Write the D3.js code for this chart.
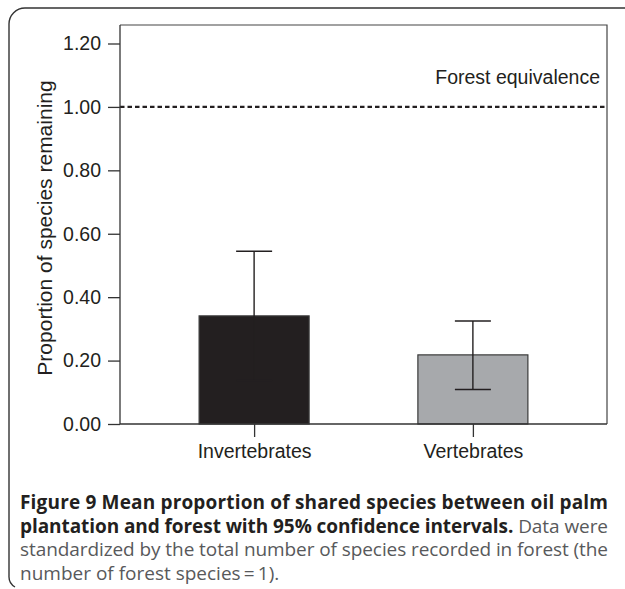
<!DOCTYPE html>
<html>
<head>
<meta charset="utf-8">
<script src="https://cdn.jsdelivr.net/npm/d3@7"></script>
<style>
  html, body { margin: 0; padding: 0; background: #fff; }
  svg { display: block; }
</style>
</head>
<body>
<svg id="chart" width="625" height="589"></svg>
<script>
// ---- data ----
const categories = ["Invertebrates", "Vertebrates"];
const means = [0.341, 0.218];
const upperCI = [0.545, 0.325];
const lowerCI = [0.137, 0.109];
const barColors = ["#231f20", "#a7a9ac"];
const yTicks = [0, 0.2, 0.4, 0.6, 0.8, 1.0, 1.2];
const referenceValue = 1.0;
const referenceLabel = "Forest equivalence";
const yLabel = "Proportion of species remaining";
// caption lines: [bold part, regular part]
const captionLines = [
  ["Figure 9 Mean proportion of shared species between oil palm", ""],
  ["plantation and forest with 95% confidence intervals.", " Data were"],
  ["", "standardized by the total number of species recorded in forest (the"],
  ["", "number of forest species\u2009=\u20091)."]
];

// ---- layout ----
(function draw() {
const svg = d3.select("#chart");
const pLeft = 120, pRight = 607, pTop = 25, pBottom = 424;
const ink = "#231f20";
const axisInk = "#333";
const font = "'Liberation Sans', Arial, Helvetica, sans-serif";
const capFont = "'Open Sans', 'Noto Sans', sans-serif";
const fs = 19.5;

// frame
svg.append("path")
  .attr("d", "M625,8 L25,8 A16,16 0 0 0 9,24 L9,576 A12,12 0 0 0 15,587")
  .attr("fill", "none").attr("stroke", "#333").attr("stroke-width", 1.4);

const y = d3.scaleLinear().domain([0, 1.2]).range([pBottom, 43.5]);
const x = d3.scalePoint().domain(categories).range([pLeft, pRight]).padding(0.613);
const barW = 110;

// plot box (right & top border)
svg.append("path")
  .attr("d", `M${pLeft},${pTop} L${pRight},${pTop} L${pRight},${pBottom}`)
  .attr("fill", "none").attr("stroke", "#444").attr("stroke-width", 1.2);

// bars
svg.selectAll("rect.bar").data(categories).enter().append("rect")
  .attr("class", "bar")
  .attr("x", d => x(d) - barW / 2)
  .attr("y", (d, i) => y(means[i]))
  .attr("width", barW)
  .attr("height", (d, i) => pBottom - y(means[i]))
  .attr("fill", (d, i) => barColors[i])
  .attr("stroke", "#3a3a3a").attr("stroke-width", 1.2);

// error bars
const capW = 36;
const eb = svg.append("g").attr("stroke", ink).attr("stroke-width", 1.4);
categories.forEach((c, i) => {
  const cx = x(c);
  eb.append("line").attr("x1", cx).attr("x2", cx).attr("y1", y(lowerCI[i])).attr("y2", y(upperCI[i]));
  eb.append("line").attr("x1", cx - capW / 2).attr("x2", cx + capW / 2).attr("y1", y(upperCI[i])).attr("y2", y(upperCI[i]));
  eb.append("line").attr("x1", cx - capW / 2).attr("x2", cx + capW / 2).attr("y1", y(lowerCI[i])).attr("y2", y(lowerCI[i]));
});

// reference line
svg.append("line")
  .attr("x1", pLeft).attr("x2", pRight)
  .attr("y1", y(referenceValue)).attr("y2", y(referenceValue))
  .attr("stroke", ink).attr("stroke-width", 2.2).attr("stroke-dasharray", "4.5,3");
svg.append("text")
  .attr("x", 600).attr("y", 84)
  .attr("text-anchor", "end")
  .attr("font-family", font).attr("font-size", fs).attr("fill", ink)
  .text(referenceLabel);

// y axis
const yAxis = svg.append("g").attr("transform", `translate(${pLeft},0)`)
  .call(d3.axisLeft(y).tickValues(yTicks).tickFormat(d3.format(".2f")).tickSize(12).tickPadding(7));
yAxis.select(".domain").attr("d", `M0,${pBottom}V${pTop}`).attr("stroke", axisInk).attr("stroke-width", 1.3);
yAxis.selectAll(".tick line").attr("stroke", axisInk).attr("stroke-width", 1.3);
yAxis.selectAll(".tick text").attr("font-family", font).attr("font-size", fs).attr("fill", ink);

// x axis
const xAxis = svg.append("g").attr("transform", `translate(0,${pBottom})`)
  .call(d3.axisBottom(x).tickSize(13).tickPadding(7));
xAxis.select(".domain").attr("d", `M${pLeft},0H${pRight}`).attr("stroke", axisInk).attr("stroke-width", 1.3);
xAxis.selectAll(".tick line").attr("stroke", axisInk).attr("stroke-width", 1.3);
xAxis.selectAll(".tick text").attr("font-family", font).attr("font-size", fs).attr("fill", ink);

// y label
svg.append("text")
  .attr("transform", "translate(52,228) rotate(-90)")
  .attr("text-anchor", "middle")
  .attr("font-family", font).attr("font-size", 21).attr("fill", ink)
  .text(yLabel);

// caption (justified lines)
const capX = 20, capWidth = 588, capSize = 19, lineH = 23.5, firstBase = 509;
captionLines.forEach((ln, li) => {
  const t = svg.append("text").attr("x", capX).attr("y", firstBase + li * lineH)
    .attr("font-family", capFont).attr("font-size", capSize).attr("xml:space", "preserve");
  if (ln[0]) t.append("tspan").attr("font-weight", "bold").attr("fill", ink).text(ln[0]);
  if (ln[1]) t.append("tspan").attr("font-weight", "normal").attr("fill", "#58595b").text(ln[1]);
  if (li < captionLines.length - 1) {
    t.attr("textLength", capWidth).attr("lengthAdjust", "spacing");
  }
});
})();
</script>
</body>
</html>
